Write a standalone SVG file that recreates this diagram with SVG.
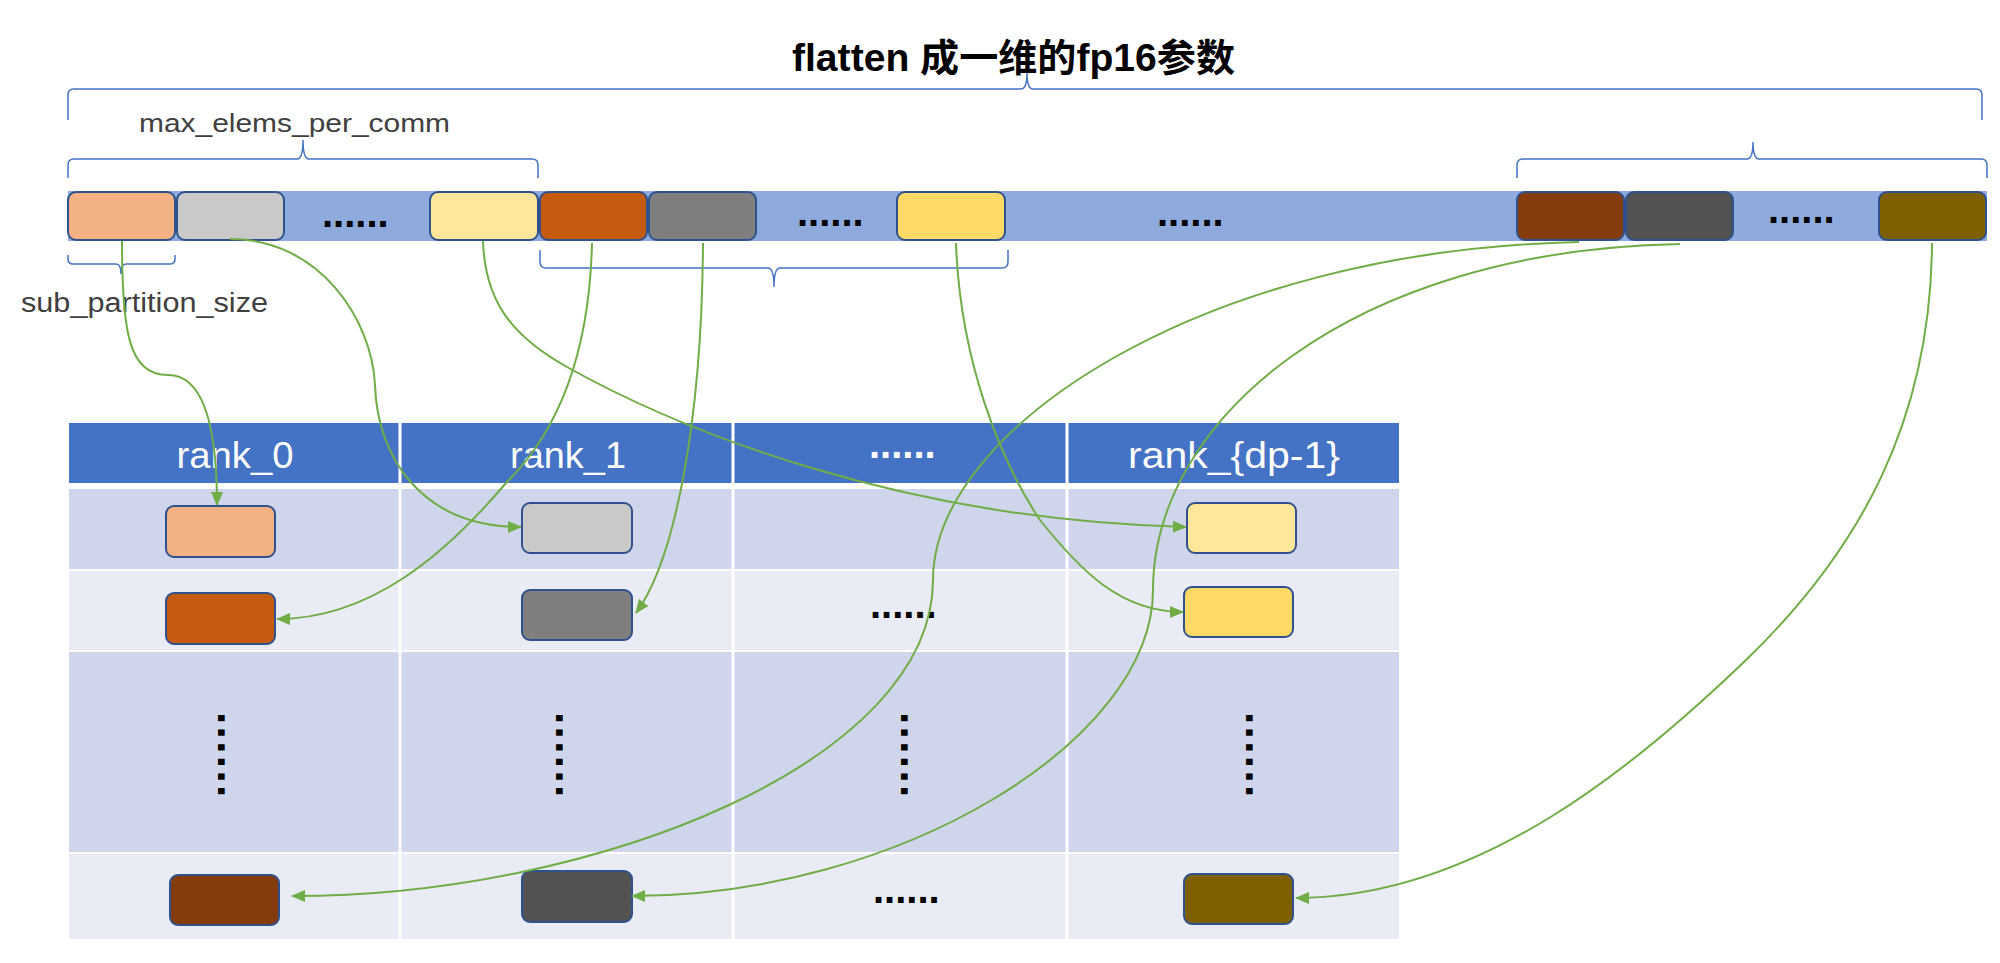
<svg xmlns="http://www.w3.org/2000/svg" width="2000" height="963" viewBox="0 0 2000 963">
<defs>
<style>
.blk{stroke:#2F528F;stroke-width:2}
.brace{fill:none;stroke:#4472C4;stroke-width:1.5}
.con{fill:none;stroke:#70AD47;stroke-width:2;marker-end:url(#arr)}
.lbl{font-family:"Liberation Sans","Noto Sans CJK SC",sans-serif;fill:#404040}
.hdr{font-family:"Liberation Sans",sans-serif;fill:#FFFFFF;font-size:36px;text-anchor:middle}
.dots{font-family:"Liberation Sans",sans-serif;font-weight:bold;font-size:40px;fill:#000}
.vdots{font-family:"Liberation Sans",sans-serif;font-weight:bold;font-size:44px;letter-spacing:2.4px;fill:#000}
.c1{fill:#F4B183}.c2{fill:#C9C9C9}.c3{fill:#FFE699}.c4{fill:#C55A11}.c5{fill:#7F7F7F}.c6{fill:#FFD966}.c7{fill:#843C0C}.c8{fill:#525252}.c9{fill:#7F6000}
</style>
<marker id="arr" markerUnits="userSpaceOnUse" markerWidth="14" markerHeight="14" viewBox="0 0 14 14" refX="13" refY="7" orient="auto">
<path d="M0,1 L14,7 L0,13 z" fill="#70AD47"/>
</marker>
</defs>
<rect width="2000" height="963" fill="#FFFFFF"/>

<g id="title">
<text x="792" y="71" font-family="'Liberation Sans','Noto Sans CJK SC',sans-serif" font-weight="bold" font-size="38" fill="#000" textLength="443" lengthAdjust="spacingAndGlyphs">flatten 成一维的fp16参数</text>
</g>

<g id="braces">
<path class="brace" d="M68,120 L68,95 Q68,89 74,89 L1021,89 Q1027,89 1027,73 Q1027,89 1033,89 L1976,89 Q1982,89 1982,95 L1982,120"/>
<path class="brace" d="M68,178 L68,165 Q68,159 74,159 L297,159 Q303,159 303,140 Q303,159 309,159 L532,159 Q538,159 538,165 L538,178"/>
<path class="brace" d="M1517,178 L1517,165 Q1517,159 1523,159 L1747,159 Q1753,159 1753,142 Q1753,159 1759,159 L1981,159 Q1987,159 1987,165 L1987,178"/>
<path class="brace" d="M540,250 L540,262 Q540,268 546,268 L768,268 Q774,268 774,287 Q774,268 780,268 L1002,268 Q1008,268 1008,262 L1008,250"/>
<path class="brace" d="M68,255 L68,259 Q68,264 73,264 L116,264 Q121,264 121,274 Q121,264 126,264 L170,264 Q175,264 175,259 L175,255"/>
</g>

<g id="labels">
<text class="lbl" x="139" y="132" font-size="26" textLength="311" lengthAdjust="spacingAndGlyphs">max_elems_per_comm</text>
<text class="lbl" x="21" y="312" font-size="27" textLength="247" lengthAdjust="spacingAndGlyphs">sub_partition_size</text>
</g>

<g id="flat-bar">
<rect x="68" y="191" width="1919" height="50" fill="#8FAADC"/>
<rect class="blk c1" x="68" y="192" width="107" height="48" rx="8"/>
<rect class="blk c2" x="177" y="192" width="107" height="48" rx="8"/>
<text class="dots" x="322" y="227">......</text>
<rect class="blk c3" x="430" y="192" width="108" height="48" rx="8"/>
<rect class="blk c4" x="540" y="192" width="107" height="48" rx="8"/>
<rect class="blk c5" x="649" y="192" width="107" height="48" rx="8"/>
<text class="dots" x="797" y="226">......</text>
<rect class="blk c6" x="897" y="192" width="108" height="48" rx="8"/>
<text class="dots" x="1157" y="226">......</text>
<rect class="blk c7" x="1517" y="192" width="107" height="48" rx="8"/>
<rect class="blk c8" x="1626" y="192" width="107" height="48" rx="8"/>
<text class="dots" x="1768" y="223">......</text>
<rect class="blk c9" x="1879" y="192" width="107" height="48" rx="8"/>
</g>

<g id="table">
<rect x="69" y="423" width="1330" height="60" fill="#4472C4"/>
<rect x="69" y="489" width="1330" height="80" fill="#CFD5EA"/>
<rect x="69" y="571" width="1330" height="79" fill="#E9EBF5"/>
<rect x="69" y="652" width="1330" height="200" fill="#CFD5EA"/>
<rect x="69" y="854" width="1330" height="85" fill="#E9EBF5"/>
<g stroke="#FFFFFF" stroke-width="3">
<line x1="400" y1="423" x2="400" y2="939"/>
<line x1="733" y1="423" x2="733" y2="939"/>
<line x1="1067" y1="423" x2="1067" y2="939"/>
</g>
<text class="hdr" x="235" y="468" textLength="117" lengthAdjust="spacingAndGlyphs">rank_0</text>
<text class="hdr" x="568" y="468" textLength="116" lengthAdjust="spacingAndGlyphs">rank_1</text>
<text class="dots" x="869" y="458" fill="#FFFFFF" style="fill:#FFFFFF">......</text>
<text class="hdr" x="1234" y="468" textLength="212" lengthAdjust="spacingAndGlyphs">rank_{dp-1}</text>
</g>

<g id="rank-blocks">
<rect class="blk c1" x="166" y="506" width="109" height="51" rx="8"/>
<rect class="blk c2" x="522" y="503" width="110" height="50" rx="8"/>
<rect class="blk c3" x="1187" y="503" width="109" height="50" rx="8"/>
<rect class="blk c4" x="166" y="593" width="109" height="51" rx="8"/>
<rect class="blk c5" x="522" y="590" width="110" height="50" rx="8"/>
<text class="dots" x="870" y="618">......</text>
<rect class="blk c6" x="1184" y="587" width="109" height="50" rx="8"/>
<text class="vdots" transform="translate(218,712) rotate(90)">......</text>
<text class="vdots" transform="translate(556,712) rotate(90)">......</text>
<text class="vdots" transform="translate(901,712) rotate(90)">......</text>
<text class="vdots" transform="translate(1246,712) rotate(90)">......</text>
<rect class="blk c7" x="170" y="875" width="109" height="50" rx="8"/>
<rect class="blk c8" x="522" y="871" width="110" height="51" rx="8"/>
<text class="dots" x="873" y="903">......</text>
<rect class="blk c9" x="1184" y="874" width="109" height="50" rx="8"/>
</g>

<g id="connectors">
<path class="con" d="M122,241 C122,330 128,375 168,375 C205,375 217,430 217,505"/>
<path class="con" d="M230,239 C320,239 372,320 375,385 C377,455 420,527 521,527"/>
<path class="con" d="M483,241 C485,300 510,335 567,367 C680,430 900,520 1186,527"/>
<path class="con" d="M592,243 C590,330 570,420 506,483 C445,555 370,619 277,619"/>
<path class="con" d="M703,243 C702,420 675,560 636,613"/>
<path class="con" d="M956,243 C960,360 1000,460 1040,520 C1080,570 1120,612 1183,612"/>
<path class="con" d="M1579,242 C1200,250 933,430 933,580 C933,760 600,896 292,896"/>
<path class="con" d="M1680,244 C1350,250 1153,420 1153,590 C1153,740 900,896 632,896"/>
<path class="con" d="M1932,243 C1931,420 1860,550 1746,660 C1640,762 1480,898 1296,898"/>
</g>
</svg>
